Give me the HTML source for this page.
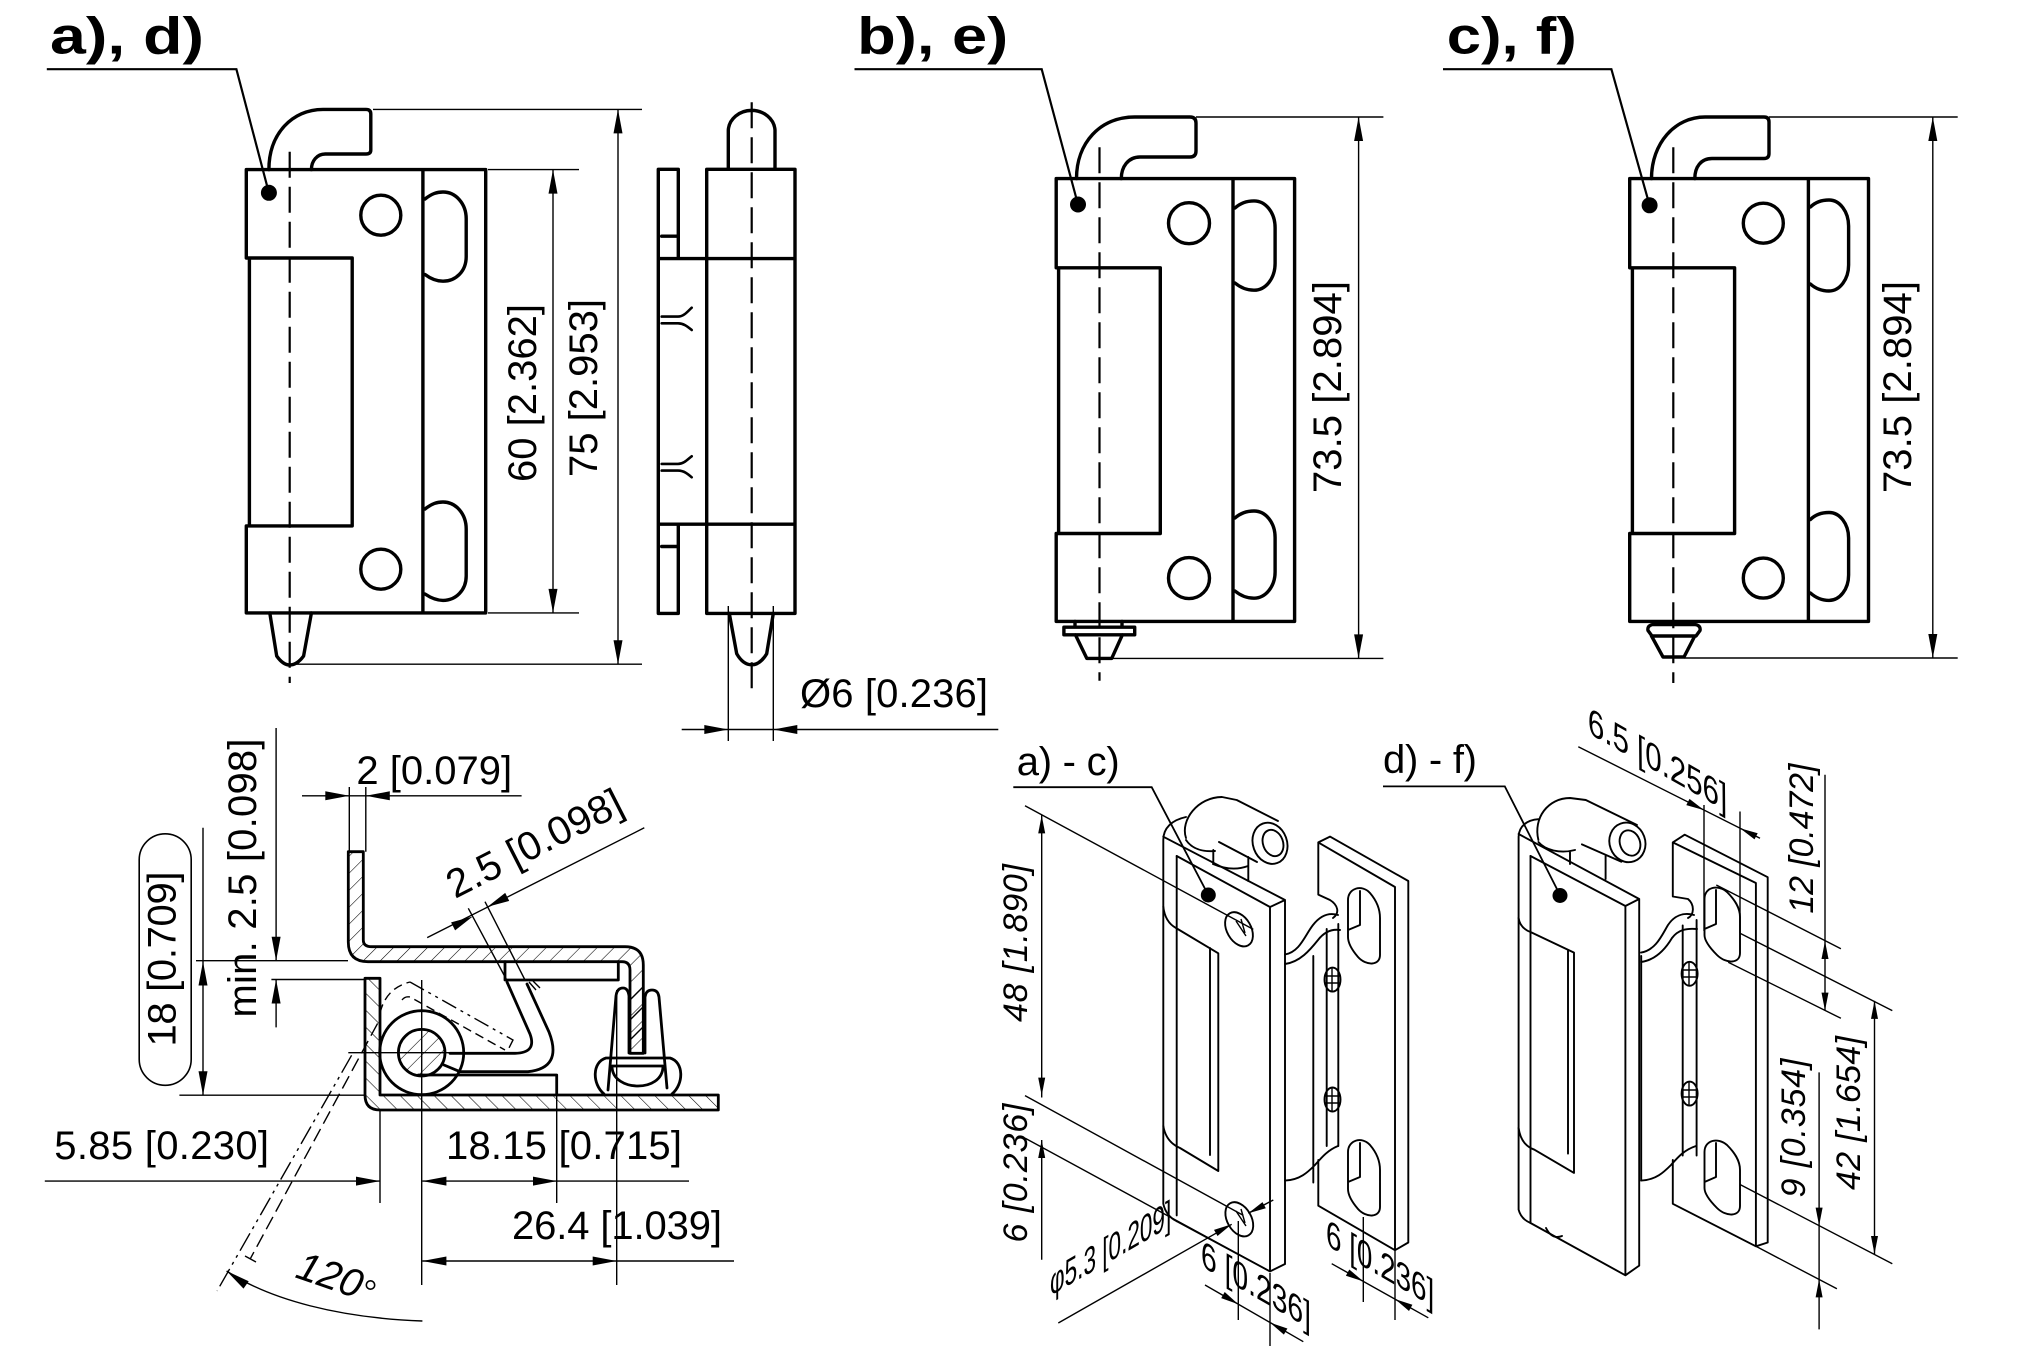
<!DOCTYPE html>
<html><head><meta charset="utf-8"><style>
html,body{margin:0;padding:0;background:#fff}
svg{display:block}
text{font-family:"Liberation Sans",Arial,sans-serif;fill:#000}
.k{stroke:#000;fill:none;stroke-width:3.4;stroke-linejoin:round;stroke-linecap:round}
.s{stroke:#000;fill:none;stroke-width:2.8;stroke-linejoin:round;stroke-linecap:round}
.i{stroke:#000;fill:none;stroke-width:1.9;stroke-linejoin:round;stroke-linecap:round}
.t{stroke:#000;fill:none;stroke-width:1.4}
.c{stroke:#000;fill:none;stroke-width:2.2;stroke-dasharray:26 9}
.d{font-size:40px}
.di{font-size:34px;font-style:italic}
.iso{font-size:33px}
.ti{font-size:52px;font-weight:bold}
</style></head><body>
<svg width="2020" height="1346" viewBox="0 0 2020 1346" xmlns="http://www.w3.org/2000/svg">
<defs>
<pattern id="hA" patternUnits="userSpaceOnUse" width="12" height="12" patternTransform="rotate(45)"><line x1="0" y1="0" x2="0" y2="12" stroke="#000" stroke-width="1.1"/></pattern>
<pattern id="hB" patternUnits="userSpaceOnUse" width="12" height="12" patternTransform="rotate(-45)"><line x1="0" y1="0" x2="0" y2="12" stroke="#000" stroke-width="1.1"/></pattern>
</defs>
<rect width="2020" height="1346" fill="#fff"/>

<!-- ============ a), d) front view ============ -->
<text class="ti" x="50" y="53.6" textLength="154" lengthAdjust="spacingAndGlyphs">a), d)</text>
<path d="M46.8,69.2 H236.4 L268.9,192.8" stroke="#000" stroke-width="2.2" fill="none"/>
<circle cx="268.9" cy="192.8" r="8"/>
<path class="k" d="M246.3,169.6 H485.7 V612.9 H246.3 V525.9 H352.2 V258 H246.3 Z M249.4,258 V525.9 M422.9,169.6 V612.9"/>
<circle class="k" cx="380.8" cy="215.2" r="20"/>
<circle class="k" cx="380.8" cy="569.2" r="20"/>
<path class="k" d="M425,199 C432,193.5 437,192 443,192 C456,192 466.2,204 466.2,218.7 V256.7 C466.2,271 456,281.2 443,281.2 C437,281.2 431,279 425,274.5"/>
<path class="k" d="M425,509 C432,503.5 437,502 443,502 C456,502 466.2,514 466.2,529 V576 C466.2,590 456,600.4 443,600.4 C437,600.4 431,598 425,594"/>
<path class="k" d="M268.9,169.6 C268.9,134 292,109.4 323,109.4 H366 Q370.8,109.4 370.8,114 V150 Q370.8,154 366,154 H325.3 C317,154 311.4,161 311.4,169.6"/>
<path class="k" d="M269.8,613 L276.7,656 Q283,665 289.7,665 Q297,665 303.6,656 L311.4,613"/>
<path class="c" d="M289.7,151.8 V683"/>
<path class="t" d="M553,169.6 V612.9 M488,169.6 H579 M488,612.9 H579 M618,109.4 V664.2 M373,109.4 H642 M295,664.2 H642"/>
<polygon points="553,169.6 548.5,193.6 557.5,193.6"/>
<polygon points="553,612.9 548.5,588.9 557.5,588.9"/>
<polygon points="618,109.4 613.5,133.4 622.5,133.4"/>
<polygon points="618,664.2 613.5,640.2 622.5,640.2"/>
<text class="d" transform="translate(536,393) rotate(-90)" text-anchor="middle" textLength="178">60 [2.362]</text>
<text class="d" transform="translate(597,388) rotate(-90)" text-anchor="middle" textLength="178">75 [2.953]</text>

<!-- ============ side view ============ -->
<path class="k" d="M658.3,169.3 V613.4 H678.3 V524.2 M658.3,169.3 H678.3 V258.6 M658.3,258.6 H706.7 M658.3,524.2 H706.7 M661.7,236.2 H678.3 M661.7,546.5 H678.3"/>
<path class="k" d="M706.7,169.3 H795 V613.4 H706.7 Z M706.7,258.6 H795 M706.7,524.2 H795"/>
<path class="i" style="stroke-width:2.6" d="M661.7,316.6 H678 C684,316.6 688,311 691.7,307.7 M661.7,323.3 H678 C684,323.3 688,327 691.7,330 M661.7,463.9 H678 C684,463.9 688,459 691.7,456.3 M661.7,470.6 H678 C684,470.6 688,474 691.7,477.3"/>
<path class="k" d="M728.3,169.3 V130 A23.4,21 0 0 1 775,130 V169.3"/>
<path class="k" d="M729.3,613.4 L736.7,653.7 Q743,664.8 751.7,664.8 Q760,664.8 766.7,653.7 L773.3,613.4"/>
<path class="c" d="M751.7,102.3 V689.3"/>
<path class="t" d="M728.3,606 V741 M773.3,606 V741 M681.7,729.5 H998.3"/>
<polygon points="728.3,729.5 704.3,725 704.3,734"/>
<polygon points="773.3,729.5 797.3,725 797.3,734"/>
<text class="d" x="800" y="707" textLength="188">Ø6 [0.236]</text>

<!-- ============ b), e) ============ -->
<text class="ti" x="857.2" y="53.6" textLength="151" lengthAdjust="spacingAndGlyphs">b), e)</text>
<path d="M854.5,69.2 H1041.7 L1078,204.5" stroke="#000" stroke-width="2.2" fill="none"/>
<circle cx="1078" cy="204.5" r="8"/>
<path class="k" d="M1056.2,178.6 H1294.6 V621.4 H1056.2 V533.5 H1160.3 V267.8 H1056.2 Z M1058.6,267.8 V533.5 M1233,178.6 V621.4"/>
<circle class="k" cx="1189" cy="223.2" r="20.5"/>
<circle class="k" cx="1189" cy="578.1" r="20.5"/>
<path class="k" d="M1235,208 C1241,202.5 1247,200.9 1254,200.9 C1266,200.9 1275.1,213 1275.1,227.7 V263.4 C1275.1,278 1266,290.2 1254,290.2 C1247,290.2 1241,288 1235,283"/>
<path class="k" d="M1235,518 C1241,512.6 1247,511 1254,511 C1266,511 1275.1,523 1275.1,537.5 V572 C1275.1,586 1266,598.2 1254,598.2 C1247,598.2 1241,596 1235,591"/>
<path class="k" d="M1076.5,178.6 C1076.5,143 1100,117 1134.7,117 H1190 Q1196,117 1196,123 V151 Q1196,157 1190,157 H1140 C1128,157 1121.3,167 1121.3,178.6"/>
<path class="k" d="M1075,621.4 V627.2 M1122,621.4 V627.2 M1063.9,627.2 H1134.7 V634.8 H1063.9 Z M1075.4,634.8 L1086.8,658.4 H1111.7 L1122.4,634.8"/>
<path class="c" d="M1099.5,147.3 V680.8"/>
<path class="t" d="M1358.6,117 V658.4 M1196,117 H1383.4 M1107.9,658.4 H1383.4"/>
<polygon points="1358.6,117 1354.1,141 1363.1,141"/>
<polygon points="1358.6,658.4 1354.1,634.4 1363.1,634.4"/>
<text class="d" transform="translate(1341,387) rotate(-90)" text-anchor="middle" textLength="212">73.5 [2.894]</text>

<!-- ============ c), f) ============ -->
<text class="ti" x="1446.8" y="53.6" textLength="130" lengthAdjust="spacingAndGlyphs">c), f)</text>
<path d="M1443,69.2 H1611.4 L1649.6,205.3" stroke="#000" stroke-width="2.2" fill="none"/>
<circle cx="1649.6" cy="205.3" r="8"/>
<path class="k" d="M1629.7,178.6 H1868.5 V621.4 H1629.7 V533.5 H1734.6 V267.8 H1629.7 Z M1632.4,267.8 V533.5 M1808.4,178.6 V621.4"/>
<circle class="k" cx="1763.3" cy="223.2" r="20"/>
<circle class="k" cx="1763.3" cy="578.1" r="20"/>
<path class="k" d="M1810.4,207 C1816,201.6 1822,200 1829,200 C1840,200 1848.6,212 1848.6,226 V265 C1848.6,279 1840,291 1829,291 C1822,291 1816,289 1810.4,284"/>
<path class="k" d="M1810.4,519.5 C1816,514 1822,512.5 1829,512.5 C1840,512.5 1848.6,524 1848.6,538 V575 C1848.6,589 1840,600.4 1829,600.4 C1822,600.4 1816,598 1810.4,593"/>
<path class="k" d="M1651.5,178.6 C1651.5,143 1675,117 1705.1,117 H1764 Q1769,117 1769,122 V153.5 Q1769,158.5 1764,158.5 H1712 C1701,158.5 1694.8,167 1694.8,178.6"/>
<path class="k" d="M1653,624.5 H1695 Q1701,625.5 1700,630.5 L1696,636 H1652 L1648,630.5 Q1647,625.5 1653,624.5 Z M1651.5,636 L1663,657 H1684 L1694.8,636"/>
<path class="c" d="M1673.3,147.3 V683"/>
<path class="t" d="M1932.8,117 V658 M1769,117 H1957.7 M1684,658 H1957.7"/>
<polygon points="1932.8,117 1928.3,141 1937.3,141"/>
<polygon points="1932.8,658 1928.3,634 1937.3,634"/>
<text class="d" transform="translate(1911,387) rotate(-90)" text-anchor="middle" textLength="212">73.5 [2.894]</text>

<!-- ============ section view ============ -->
<path class="s" style="fill:url(#hA)" d="M348.3,851.7 H363.3 V940 Q363.3,946.7 371.7,946.7 H625 Q643.3,946.7 643.3,965 V1053.3 H630 V970 Q630,961.7 622,961.7 H368 Q348.3,961.7 348.3,942 Z"/>
<path class="s" d="M505,961.7 V980 H618.3 V961.7"/>
<path class="s" d="M507,982 L530,1034 Q537,1053 515,1053.3 H450 M527,984 L549,1032 Q563,1068 528,1071.7 H460 L444,1065"/>
<path class="t" d="M529,982 L536,990 M533,981 L540,988"/>
<path class="s" style="fill:url(#hB)" d="M365,978.3 H380 V1095 H718.3 V1110 H380 Q365,1110 365,1095 Z"/>
<path class="s" d="M418.3,1075 H556.7 V1095"/>
<circle class="s" cx="421.7" cy="1052.7" r="42" fill="#fff"/>
<circle class="s" cx="421.7" cy="1052.7" r="23.3" style="fill:url(#hA)"/>
<path class="s" d="M608,1090 L616,996 Q617,988 623,988 Q628,988 629,996 V1053 M645,1053 V997 Q646,990 652,990 Q658,990 659,997 L667,1088"/>
<path class="s" d="M604,1094 C592,1084 592,1062 606,1058 H670 C684,1062 684,1084 672,1094 M612,1066 C612,1080 626,1086 638,1086 C650,1086 663,1080 663,1066 Z"/>
<path class="t" d="M630,1000 L643,987 M630,1020 L643,1007 M630,1040 L643,1027"/>
<path class="t" d="M421.7,980 V1285 M348.3,1052.7 H515 M380,1110 V1203 M556.7,1095 V1203 M616.7,990 V1285"/>
<path class="t" stroke-dasharray="14 6" d="M377.6,1023.4 L250.2,1258.9 M245,1256 L256,1262"/>
<path class="t" stroke-dasharray="20 5 3 5 3 5" d="M351.6,1055.3 L217.1,1290.9"/>
<path class="t" stroke-dasharray="9 5" d="M380,1013 Q386,988 410,982 M402,1000 Q405,996 410,997 L505,1050"/>
<path class="t" stroke-dasharray="16 5 3 5 3 5" d="M410,982 L513,1040 L508,1050"/>
<path class="t" d="M302,795.8 H521.6 M349.3,787 V851.7 M365.8,787 V851.7"/>
<polygon points="349.3,795.8 325.3,791.3 325.3,800.3"/>
<polygon points="365.8,795.8 389.8,791.3 389.8,800.3"/>
<text class="d" x="356.4" y="784" textLength="155.7">2 [0.079]</text>
<path class="t" d="M276.1,728 V960.7 M276.1,979.5 V1027.4 M196,960.7 H348 M271.4,979.5 H365"/>
<polygon points="276.1,960.7 271.6,936.7 280.6,936.7"/>
<polygon points="276.1,979.5 271.6,1003.5 280.6,1003.5"/>
<text class="d" transform="translate(256,878) rotate(-90)" text-anchor="middle" textLength="279">min. 2.5 [0.098]</text>
<path class="t" d="M203,827.8 V1095.2 M179.4,1095.2 H365"/>
<polygon points="203,961.5 198.5,985.5 207.5,985.5"/>
<polygon points="203,1095.2 198.5,1071.2 207.5,1071.2"/>
<rect class="t" style="stroke-width:1.6" x="139.2" y="833.8" width="52" height="251.5" rx="26" ry="26"/>
<text class="d" transform="translate(175.6,959) rotate(-90)" text-anchor="middle" textLength="175">18 [0.709]</text>
<path class="t" d="M427.2,937.6 L644.3,827.8 M468.3,908.3 L506.7,980 M485,901.7 L525,980"/>
<polygon points="472.7,916.5 455.1,930.4 451.1,922.4"/>
<polygon points="487.6,906.8 509.2,900.9 505.2,892.9"/>
<text class="d" transform="translate(455,899) rotate(-27)" textLength="192">2.5 [0.098]</text>
<path class="t" d="M44.8,1181.1 H380 M422.4,1181.1 H689 M422.4,1261 H734"/>
<polygon points="380,1181.1 356,1176.6 356,1185.6"/>
<polygon points="422.4,1181.1 446.4,1176.6 446.4,1185.6"/>
<polygon points="557,1181.1 533,1176.6 533,1185.6"/>
<polygon points="422.4,1261 446.4,1256.5 446.4,1265.5"/>
<polygon points="616.7,1261 592.7,1256.5 592.7,1265.5"/>
<text class="d" x="54.3" y="1159" textLength="214.7">5.85 [0.230]</text>
<text class="d" x="446" y="1159" textLength="236">18.15 [0.715]</text>
<text class="d" x="512" y="1239" textLength="210">26.4 [1.039]</text>
<path class="t" d="M226.6,1271 C270,1300 340,1318 422.4,1321"/>
<polygon points="226.6,1271 248.7,1281.2 243.5,1288.6"/>
<text class="d" style="font-style:italic" transform="translate(294,1277) rotate(19)">120</text>
<circle cx="370.5" cy="1285" r="4.2" fill="none" stroke="#000" stroke-width="1.6"/>

<!-- ============ iso a) - c) ============ -->
<text class="d" x="1016.7" y="774.8" textLength="103">a) - c)</text>
<path class="t" style="stroke-width:1.8" d="M1013.3,787.2 H1151.7 L1208.3,895"/>
<circle cx="1208.3" cy="895" r="7.5"/>
<path class="i" d="M1163.3,840.5 V1203.8 Q1166,1216 1176.7,1221.2 M1176.7,856 V1215.4 M1163.3,840.5 C1163,828 1172,820 1186,817"/>
<path class="i" d="M1176.7,856 L1270,907 L1285,900 M1163.3,836.7 L1285,900 M1270,907 V1271.4 M1285,900 V1264 M1176.7,1221.2 L1270,1271.4 L1285,1264"/>
<path class="i" d="M1163.3,906.7 Q1165,922 1176,928 L1218.3,953.3 V1171 M1210,948 V1155 M1163.3,1126 Q1166,1142 1180,1148 L1218.3,1171"/>
<ellipse class="i" cx="1239" cy="929.3" rx="18.5" ry="12" transform="rotate(60 1239 929.3)"/>
<ellipse class="i" cx="1239.3" cy="1219.3" rx="18.5" ry="12" transform="rotate(60 1239.3 1219.3)"/>
<path class="t" d="M1236,921 L1246,936 M1241,919 L1245,933 M1236,1211 L1246,1226 M1241,1209 L1245,1223"/>
<path class="i" d="M1186,838 C1180,820 1198,797 1222,797 L1236.7,800 L1278,821 M1257,862 L1219,842 M1186,840 C1192,849 1203,852 1215,851 M1213.3,850 V864 M1248.3,857 V881 M1213,864 Q1232,872 1248,866"/>
<ellipse class="i" cx="1270" cy="843.3" rx="17" ry="21" transform="rotate(-20 1270 843.3)"/>
<ellipse class="i" cx="1273" cy="843" rx="10" ry="13.5" transform="rotate(-20 1273 843)"/>
<path class="i" d="M1318.3,842.4 L1330,836.6 L1408.3,881 V1242.5 L1395,1250.2 L1318.3,1205.7 V1160 M1318.3,842.4 L1395,887 V1250.2 M1318.3,842.4 V894.6 L1330,900 C1338,905 1340,913 1333,918"/>
<path class="i" d="M1348,900 C1348,888 1362,884 1370,893 C1376,900 1380,908 1380,918 V955 C1380,966 1366,966 1358,957 C1352,950 1348,943 1348,937 Z M1348,930 L1360,925 V891"/>
<path class="i" d="M1348,1152 C1348,1140 1362,1136 1370,1145 C1376,1152 1380,1160 1380,1170 V1207 C1380,1218 1366,1218 1358,1209 C1352,1202 1348,1195 1348,1189 Z M1348,1182 L1360,1177 V1143"/>
<path class="i" d="M1326.7,929 V1146 M1338.3,924 V1146"/>
<ellipse class="i" cx="1332.5" cy="979.6" rx="8" ry="12"/>
<ellipse class="i" cx="1332.5" cy="1099.5" rx="8" ry="12"/>
<path class="t" d="M1325,976 H1340 M1325,983 H1340 M1332,968 V991 M1325,1096 H1340 M1325,1103 H1340 M1332,1088 V1111"/>
<path class="i" d="M1285,954.5 C1300,952 1305,935 1313,925 C1320,916 1328,912 1338,915 M1285,964 C1300,962 1310,950 1318,940 C1325,931 1333,929 1340,930 M1313.3,956 V1182.5 M1285,1180.6 C1300,1180 1308,1172 1315,1165 C1322,1157 1328,1150 1338,1146"/>
<path class="t" d="M1041.7,815.4 V1097.5 M1041.7,1140 V1259.8 M1025,805.7 L1253.3,929.4 M1025,1095.6 L1243.3,1215.4 M1025,1138.1 L1270,1271.4"/>
<polygon points="1041.7,815.4 1038.2,833.4 1045.2,833.4"/>
<polygon points="1041.7,1095.6 1038.2,1077.6 1045.2,1077.6"/>
<polygon points="1041.7,1140 1038.2,1158 1045.2,1158"/>
<text class="di" transform="translate(1027,943) rotate(-90)" text-anchor="middle" textLength="158">48 [1.890]</text>
<text class="di" transform="translate(1027,1173) rotate(-90)" text-anchor="middle" textLength="139">6 [0.236]</text>
<path class="t" d="M1058.3,1323 L1231.7,1224.3 M1273.3,1200 L1248.3,1213.3"/>
<polygon points="1231.7,1224.3 1217.5,1236 1214,1229.9"/>
<polygon points="1248.3,1213.3 1262.5,1202.1 1265.8,1208.3"/>
<text class="iso" transform="translate(1050,1296) rotate(-30) skewX(-30)" textLength="140" lengthAdjust="spacingAndGlyphs">φ5.3 [0.209]</text>
<path class="t" d="M1205,1285 L1303.3,1341.7 M1238.3,1221 V1320 M1270,1273 V1346"/>
<polygon points="1238.3,1304.2 1221.2,1298.1 1224.7,1292"/>
<polygon points="1270,1322.6 1283.9,1334.6 1287.4,1328.5"/>
<text class="iso" transform="translate(1201,1266) rotate(30) skewX(30)" textLength="127" lengthAdjust="spacingAndGlyphs">6 [0.236]</text>
<path class="t" d="M1331.7,1263.7 L1428.3,1317.8 M1363.3,1217 V1302 M1395,1250 V1320"/>
<polygon points="1363.3,1281.4 1345.9,1275.7 1349.3,1269.5"/>
<polygon points="1395,1299.1 1409,1311 1412.4,1304.8"/>
<text class="iso" transform="translate(1326,1245) rotate(30) skewX(30)" textLength="125" lengthAdjust="spacingAndGlyphs">6 [0.236]</text>

<!-- ============ iso d) - f) ============ -->
<text class="d" x="1383" y="773" textLength="94">d) - f)</text>
<path class="t" style="stroke-width:1.8" d="M1383,786.4 H1504.8 L1560,895"/>
<circle cx="1560" cy="895.5" r="7.5"/>
<path class="i" d="M1518.6,836.6 V1209.6 Q1521,1219 1530.5,1223 M1530.5,856 V1223 M1518.6,836.6 C1519,826 1527,820 1538.4,819.2"/>
<path class="i" d="M1530.5,856 L1625.4,906 L1639.2,899 M1518.6,834 L1639.2,899 M1625.4,906 V1275.3 M1639.2,899 V1265.6 M1530.5,1223 L1625.4,1275.3 L1639.2,1265.6"/>
<path class="i" d="M1518.6,918 Q1520,928 1530.5,932 L1574,952.6 V1172.9 M1568,950 V1153.6 M1518.6,1128 Q1521,1145 1534.4,1149.7 L1574,1172.9"/>
<path class="i" d="M1546,1228 Q1552,1240 1562,1236"/>
<path class="i" d="M1538.4,840 C1533,818 1548,798 1570,798 L1585.8,800 L1637,825 M1621.4,861.7 L1581.9,844.4 M1538.4,842 C1545,850 1560,854 1575,850 M1570,852 V864 M1605.6,856 V879"/>
<ellipse class="i" cx="1627.4" cy="842.4" rx="17.8" ry="20" transform="rotate(-20 1627.4 842.4)"/>
<ellipse class="i" cx="1630" cy="843" rx="10" ry="13" transform="rotate(-20 1630 843)"/>
<path class="i" d="M1672.8,842.4 L1684.7,834.7 L1767.7,877.2 V1242.5 L1755.9,1246.3 L1672.8,1203.8 V1160 M1672.8,842.4 L1755.9,883 V1246.3 M1672.8,842.4 V896.5 L1688,899 C1695,905 1694,915 1688,918"/>
<path class="i" d="M1704.5,899 C1704.5,887 1718,884 1727,892 C1734,899 1740,907 1740,917 V953 C1740,964 1726,964 1717,955 C1710,948 1704.5,941 1704.5,935 Z M1704.5,929 L1716,924 V890"/>
<path class="i" d="M1704.5,1152 C1704.5,1140 1718,1137 1727,1145 C1734,1152 1740,1160 1740,1170 V1206 C1740,1217 1726,1217 1717,1208 C1710,1201 1704.5,1194 1704.5,1188 Z M1704.5,1182 L1716,1177 V1143"/>
<path class="i" d="M1682.7,925.5 V1155.5 M1696.6,920 V1155.5"/>
<ellipse class="i" cx="1689.6" cy="973.8" rx="8" ry="12"/>
<ellipse class="i" cx="1689.6" cy="1093.6" rx="8" ry="12"/>
<path class="t" d="M1682,970 H1697 M1682,977 H1697 M1689,962 V985 M1682,1090 H1697 M1682,1097 H1697 M1689,1082 V1105"/>
<path class="i" d="M1641,952.6 C1656,950 1662,935 1668,925 C1674,916 1683,912 1694,915 M1641,962 C1656,960 1666,948 1672,938 C1678,930 1686,928 1697,929 M1641.2,956 V1180 M1641,1180.6 C1656,1180 1664,1172 1671,1165 C1678,1157 1684,1150 1696,1146"/>
<path class="t" d="M1578.3,746.7 L1760,838.3 M1704,805 V931 M1740,811.5 V933"/>
<polygon points="1704,810.1 1686.3,805.1 1689.5,798.9"/>
<polygon points="1740,828.2 1754.5,839.4 1757.7,833.2"/>
<text class="iso" transform="translate(1588,733) rotate(29.5) skewX(30)" textLength="160" lengthAdjust="spacingAndGlyphs">6.5 [0.256]</text>
<path class="t" d="M1716.3,885 L1840.9,948.7 M1740,933.3 L1892.3,1010.6 M1728.2,962.2 L1840.9,1018.3 M1740,1184.5 L1892.3,1263.7 M1755.9,1246.3 L1836.9,1288.8"/>
<path class="t" d="M1825,774.8 V1010.6 M1874.5,1000.9 V1254 M1819.1,1072.4 V1329.4"/>
<polygon points="1825,941 1821.5,959 1828.5,959"/>
<polygon points="1825,1010.6 1821.5,992.6 1828.5,992.6"/>
<polygon points="1874.5,1000.9 1871,1018.9 1878,1018.9"/>
<polygon points="1874.5,1254 1871,1236 1878,1236"/>
<polygon points="1819.1,1225.6 1815.6,1207.6 1822.6,1207.6"/>
<polygon points="1819.1,1279.4 1815.6,1297.4 1822.6,1297.4"/>
<text class="di" transform="translate(1813,838.6) rotate(-90)" text-anchor="middle" textLength="150">12 [0.472]</text>
<text class="di" transform="translate(1860,1113) rotate(-90)" text-anchor="middle" textLength="154">42 [1.654]</text>
<text class="di" transform="translate(1805,1128) rotate(-90)" text-anchor="middle" textLength="139">9 [0.354]</text>
</svg>
</body></html>
